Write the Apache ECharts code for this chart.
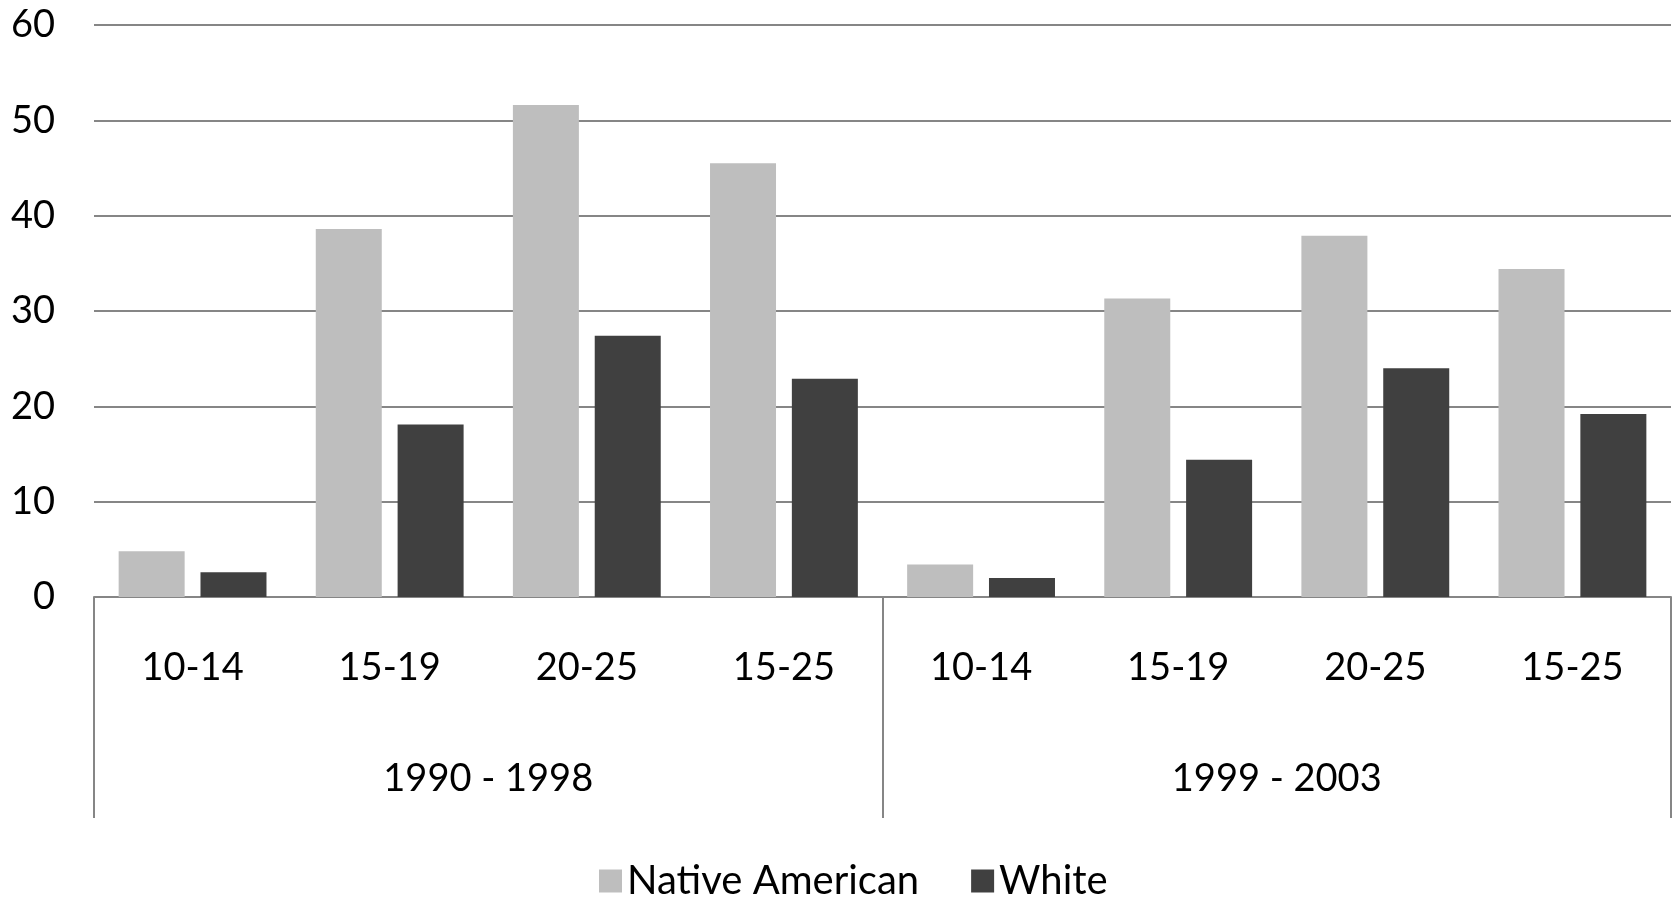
<!DOCTYPE html>
<html>
<head>
<meta charset="utf-8">
<script src="https://cdn.jsdelivr.net/npm/echarts@6/dist/echarts.min.js"></script>
<style>
html,body{margin:0;padding:0;background:#fff;}
#chart{width:1677px;height:900px;}
</style>
</head>
<body>
<div id="chart"></div>
<script>
const categories = ['10-14','15-19','20-25','15-25','10-14','15-19','20-25','15-25'];
const periods = ['1990 - 1998','1999 - 2003'];
const nativeAmerican = [4.8, 38.6, 51.6, 45.5, 3.4, 31.3, 37.9, 34.4];
const white = [2.6, 18.1, 27.4, 22.9, 2.0, 14.4, 24.0, 19.2];
const yTicks = [0, 10, 20, 30, 40, 50, 60];

const FONT = 'Lato';
const chart = echarts.init(document.getElementById('chart'));
chart.setOption({
  animation: false,
  backgroundColor: '#ffffff',
  grid: { left: 94, right: 6, top: 25, bottom: 303 },
  legend: {
    data: ['Native American', 'White'],
    left: 594, top: 856,
    icon: 'rect', itemWidth: 23, itemHeight: 23, itemGap: 52,
    textStyle: { fontFamily: FONT, fontSize: 40, color: '#000' }
  },
  xAxis: [
    {
      type: 'category', data: categories, position: 'bottom',
      axisLine: { show: true, lineStyle: { color: '#868686', width: 2 } },
      axisTick: { show: false },
      axisLabel: { fontFamily: FONT, fontSize: 38, color: '#000', margin: 52, interval: 0 }
    },
    {
      type: 'category', data: periods, position: 'bottom', gridIndex: 0,
      axisLine: { show: false },
      axisTick: { show: true, length: 221, lineStyle: { color: '#868686', width: 2 } },
      axisLabel: { fontFamily: FONT, fontSize: 38, color: '#000', margin: 163 }
    }
  ],
  yAxis: {
    type: 'value', min: yTicks[0], max: yTicks[yTicks.length - 1], interval: 10,
    axisLine: { show: false }, axisTick: { show: false },
    axisLabel: { fontFamily: FONT, fontSize: 38, color: '#000', margin: 39 },
    splitLine: { lineStyle: { color: '#868686', width: 2 } }
  },
  series: [
    { name: 'Native American', type: 'bar', xAxisIndex: 0, data: nativeAmerican,
      itemStyle: { color: '#bebebe' }, barCategoryGap: '25%', barGap: '24%' },
    { name: 'White', type: 'bar', xAxisIndex: 0, data: white,
      itemStyle: { color: '#404040' }, barCategoryGap: '25%', barGap: '24%' }
  ]
});
</script>
</body>
</html>
